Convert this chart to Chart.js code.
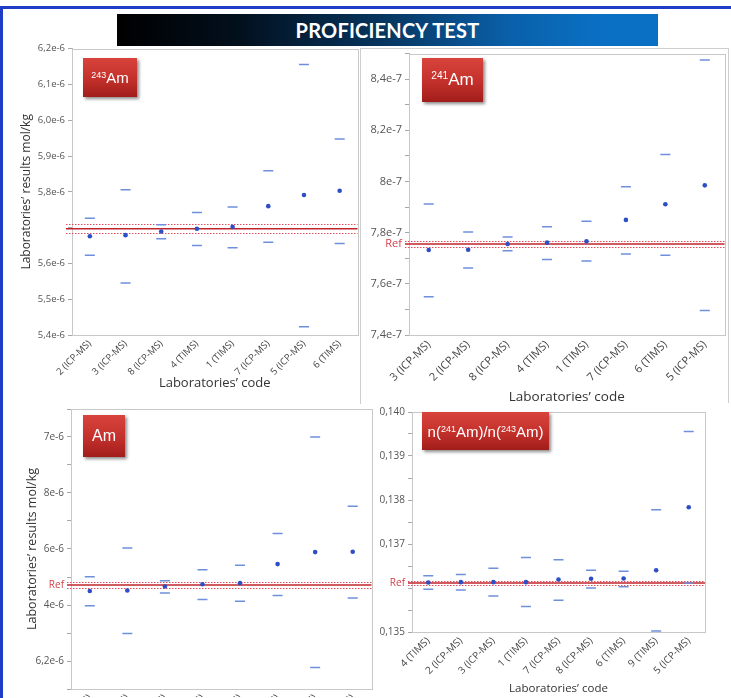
<!DOCTYPE html>
<html>
<head>
<meta charset="utf-8">
<script src="https://cdn.jsdelivr.net/npm/chart.js@4.4.1/dist/chart.umd.min.js"></script>
<style>
html,body{margin:0;padding:0;background:#fff;}
body{width:731px;height:698px;position:relative;overflow:hidden;font-family:"Open Sans",sans-serif;}
#frame{position:absolute;left:0;top:6px;width:731px;height:700px;border-top:3px solid #1e3cc8;border-left:3px solid #1e3cc8;box-sizing:border-box;}
canvas{position:absolute;}
#banner{position:absolute;left:117px;top:14px;width:541px;height:32px;z-index:6;
  background:linear-gradient(to right,#000 0%,#020f1c 22%,#06335c 48%,#0a5fa8 72%,#0a6fc2 88%,#0a70c3 100%);
  color:#fff;font:700 20px Lato,"Open Sans",sans-serif;text-align:center;line-height:33px;letter-spacing:0.2px;}
.tag{position:absolute;z-index:7;color:#fff;font-family:"Liberation Sans",Arial,sans-serif;
  background:linear-gradient(to bottom,#d8443c 0%,#c3302b 55%,#a11d1b 100%);
  box-shadow:2px 2px 3px rgba(0,0,0,0.45);display:flex;align-items:center;justify-content:center;white-space:nowrap;}
.tag sup{font-size:0.6em;vertical-align:0.55em;line-height:0;}
#frame2{position:absolute;left:360px;top:48px;width:369px;height:356px;border-left:1px solid #cfcfcf;border-top:1px solid #cfcfcf;border-right:1px solid #cfcfcf;box-sizing:border-box;}
</style>
</head>
<body>
<div id="frame"></div>
<div id="frame2"></div>
<div id="banner">PROFICIENCY TEST</div>
<canvas id="c1" width="360" height="360" style="left:4px;top:40px;z-index:2"></canvas>
<canvas id="c2" width="369" height="362" style="left:362px;top:44px;z-index:2"></canvas>
<canvas id="c3" width="374" height="298" style="left:4px;top:400px;z-index:2"></canvas>
<canvas id="c4" width="352" height="295" style="left:379px;top:403px;z-index:3;background:#fff"></canvas>
<div class="tag" style="left:83px;top:58px;width:54px;height:39px;font-size:15px;"><span><sup>243</sup>Am</span></div>
<div class="tag" style="left:422px;top:58px;width:61px;height:44px;font-size:17px;"><span><sup>241</sup>Am</span></div>
<div class="tag" style="left:83px;top:415px;width:42px;height:42px;font-size:16px;"><span>Am</span></div>
<div class="tag" style="left:422px;top:412px;width:127px;height:38px;font-size:15px;"><span>n(<sup>241</sup>Am)/n(<sup>243</sup>Am)</span></div>
<script>
// ---------- Panel 1 : 243Am (mol/kg) ----------
const p1Labs  = ["2 (ICP-MS)","3 (ICP-MS)","8 (ICP-MS)","4 (TIMS)","1 (TIMS)","7 (ICP-MS)","5 (ICP-MS)","6 (TIMS)"];
const p1Mean  = [5.676e-6,5.679e-6,5.689e-6,5.697e-6,5.702e-6,5.760e-6,5.791e-6,5.803e-6];
const p1Upper = [5.726e-6,5.806e-6,5.708e-6,5.742e-6,5.758e-6,5.859e-6,6.156e-6,5.948e-6];
const p1Lower = [5.623e-6,5.545e-6,5.669e-6,5.650e-6,5.644e-6,5.659e-6,5.423e-6,5.656e-6];
const p1Ref = 5.697e-6, p1RefU = 0.012e-6;
const p1TickValues = [5.4e-6,5.5e-6,5.6e-6,5.7e-6,5.8e-6,5.9e-6,6.0e-6,6.1e-6,6.2e-6];
const p1TickLabels = ["5,4e-6","5,5e-6","5,6e-6","","5,8e-6","5,9e-6","6,0e-6","6,1e-6","6,2e-6"];

// ---------- Panel 2 : 241Am (mol/kg) ----------
const p2Labs  = ["3 (ICP-MS)","2 (ICP-MS)","8 (ICP-MS)","4 (TIMS)","1 (TIMS)","7 (ICP-MS)","6 (TIMS)","5 (ICP-MS)"];
const p2Mean  = [7.732e-7,7.733e-7,7.756e-7,7.761e-7,7.766e-7,7.850e-7,7.911e-7,7.985e-7];
const p2Upper = [7.912e-7,7.803e-7,7.783e-7,7.823e-7,7.845e-7,7.980e-7,8.106e-7,8.475e-7];
const p2Lower = [7.550e-7,7.662e-7,7.729e-7,7.695e-7,7.689e-7,7.717e-7,7.712e-7,7.496e-7];
const p2Ref = 7.756e-7, p2RefU = 0.013e-7;
const p2TickValues = [7.4e-7,7.5e-7,7.6e-7,7.7e-7,7.8e-7,7.9e-7,8.0e-7,8.1e-7,8.2e-7,8.3e-7,8.4e-7,8.5e-7];
const p2TickLabels = ["7,4e-7","","7,6e-7","","7,8e-7","","8e-7","","8,2e-7","","8,4e-7",""];

// ---------- Panel 3 : Am (mol/kg) ----------
const p3Labs  = ["2 (ICP-MS)","3 (ICP-MS)","8 (ICP-MS)","4 (TIMS)","1 (TIMS)","7 (ICP-MS)","5 (ICP-MS)","6 (TIMS)"];
const p3Mean  = [6.450e-6,6.452e-6,6.466e-6,6.474e-6,6.478e-6,6.546e-6,6.589e-6,6.590e-6];
const p3Upper = [6.501e-6,6.604e-6,6.487e-6,6.526e-6,6.542e-6,6.655e-6,7.000e-6,6.753e-6];
const p3Lower = [6.397e-6,6.298e-6,6.443e-6,6.420e-6,6.413e-6,6.434e-6,6.177e-6,6.425e-6];
const p3Ref = 6.471e-6, p3RefU = 0.011e-6;
const p3TickValues = [6.1e-6,6.2e-6,6.3e-6,6.4e-6,6.5e-6,6.6e-6,6.7e-6,6.8e-6,6.9e-6,7.0e-6,7.1e-6];
const p3TickLabels = ["","6,2e-6","","4e-6","","6e-6","","8e-6","","7e-6",""];

// ---------- Panel 4 : n(241Am)/n(243Am) ----------
const p4Labs  = ["4 (TIMS)","2 (ICP-MS)","3 (ICP-MS)","1 (TIMS)","7 (ICP-MS)","8 (ICP-MS)","6 (TIMS)","9 (TIMS)","5 (ICP-MS)"];
const p4Mean  = [0.136126,0.136133,0.136133,0.136133,0.136193,0.136209,0.136216,0.136402,0.137835];
const p4Upper = [0.136276,0.136305,0.136447,0.136693,0.136641,0.136402,0.136379,0.137776,0.139559];
const p4Lower = [0.135970,0.135954,0.135819,0.135582,0.135723,0.136001,0.136029,0.135022,0.136111];
const p4Ref = 0.136111, p4RefU = 0.00005;
const p4TickValues = [0.135,0.1355,0.136,0.1365,0.137,0.1375,0.138,0.1385,0.139,0.1395,0.140];
const p4TickLabels = ["0,135","","","","0,137","","0,138","","0,139","","0,140"];

const DASH = '#6f8fdc', DOT = '#2d4ec4', RED = '#c0262c', REDDOT = '#e0505e';

const refPlugin = {
  id: 'refLines',
  beforeDatasetsDraw(chart, args, o) {
    const {ctx, chartArea: a, scales: {y}} = chart;
    const x0 = a.left - o.extL, x1 = a.right + o.extR;
    ctx.save();
    ctx.strokeStyle = '#c8c8c8'; ctx.lineWidth = 1;
    ctx.strokeRect(Math.round(a.left) + 0.5, Math.round(a.top) + 0.5, Math.round(a.right - a.left), Math.round(a.bottom - a.top));
    ctx.strokeStyle = REDDOT; ctx.lineWidth = 1; ctx.setLineDash([1.5, 1.5]);
    [o.value + o.delta, o.value - o.delta].forEach(v => {
      const yy = Math.round(y.getPixelForValue(v)) + 0.5;
      ctx.beginPath(); ctx.moveTo(x0, yy); ctx.lineTo(x1, yy); ctx.stroke();
    });
    ctx.setLineDash([]);
    ctx.strokeStyle = RED; ctx.lineWidth = 1.5;
    const yc = y.getPixelForValue(o.value);
    ctx.beginPath(); ctx.moveTo(x0, yc); ctx.lineTo(x1, yc); ctx.stroke();
    ctx.restore();
  }
};

function makeChart(id, c) {
  const near = (a, b) => Math.abs(a - b) < Math.abs(c.yMax - c.yMin) * 1e-6;
  const ds = (data, style, r, color) => ({
    data, showLine: false, pointStyle: style, pointRadius: r, pointHoverRadius: r,
    pointBorderColor: color, pointBackgroundColor: color,
    pointBorderWidth: style === 'line' ? 1.5 : 0
  });
  return new Chart(document.getElementById(id), {
    type: 'line',
    data: {
      labels: c.labels,
      datasets: [ds(c.upper, 'line', 5, DASH), ds(c.lower, 'line', 5, DASH), ds(c.mean, 'circle', 2.3, DOT)]
    },
    plugins: [refPlugin],
    options: {
      responsive: false, animation: false, devicePixelRatio: 1, events: [],
      layout: { padding: c.pad },
      plugins: {
        legend: { display: false }, tooltip: { enabled: false },
        refLines: { value: c.ref, delta: c.refU, extL: c.extL, extR: c.extR }
      },
      scales: {
        x: {
          type: 'category', offset: true,
          grid: { display: false, drawTicks: false },
          border: { display: false },
          ticks: { minRotation: 45, maxRotation: 45, autoSkip: false, padding: 3,
                   color: '#444', font: { family: '"Open Sans", sans-serif', size: c.xFont } },
          title: c.xTitle ? { display: true, text: 'Laboratories’ code', color: '#333',
                   font: { family: '"Open Sans", sans-serif', size: c.xTitleSize },
                   padding: { top: 0, bottom: c.xTitlePad } } : { display: false },
          afterFit: s => { s.height = c.xH; }
        },
        y: {
          type: 'linear', min: c.yMin, max: c.yMax,
          afterBuildTicks: s => {
            const t = c.tickValues.map(v => ({ value: v }));
            if (c.refLabel) t.push({ value: c.ref });
            s.ticks = t;
          },
          grid: { display: true, drawOnChartArea: false, drawTicks: true, tickLength: 4,
                  color: ctx => (ctx.tick && c.refLabel && near(ctx.tick.value, c.ref)) ? 'rgba(0,0,0,0)' : '#a8a8a8' },
          border: { display: true, color: '#b8b8b8' },
          ticks: {
            autoSkip: false, padding: 3,
            font: { family: '"Open Sans", sans-serif', size: c.yFont },
            color: ctx => (ctx.tick && c.refLabel && near(ctx.tick.value, c.ref)) ? '#d0404a' : '#555',
            callback: v => {
              if (c.refLabel && near(v, c.ref)) return 'Ref';
              const i = c.tickValues.findIndex(t => near(t, v));
              return i >= 0 ? c.tickLabels[i] : '';
            }
          },
          title: c.yTitle ? { display: true, text: 'Laboratories’ results mol/kg', color: '#333',
                   font: { family: '"Open Sans", sans-serif', size: c.yTitleSize },
                   padding: { top: c.yTitlePad, bottom: 0 } } : { display: false },
          afterFit: s => { s.width = c.yW; }
        }
      }
    }
  });
}

makeChart('c1', { labels: p1Labs, upper: p1Upper, lower: p1Lower, mean: p1Mean,
  ref: p1Ref, refU: p1RefU, refLabel: false, yMin: 5.4e-6, yMax: 6.2e-6,
  tickValues: p1TickValues, tickLabels: p1TickLabels,
  pad: { left: 0, top: 6, right: 3, bottom: 0 }, yW: 68, xH: 65,
  yFont: 9.5, xFont: 9.5, yTitle: true, yTitleSize: 12, yTitlePad: 15,
  xTitle: true, xTitleSize: 13, xTitlePad: 9, extL: 6, extR: 0 });

makeChart('c2', { labels: p2Labs, upper: p2Upper, lower: p2Lower, mean: p2Mean,
  ref: p2Ref, refU: p2RefU, refLabel: true, yMin: 7.4e-7, yMax: 8.5e-7,
  tickValues: p2TickValues, tickLabels: p2TickLabels,
  pad: { left: 0, top: 4, right: 5, bottom: 0 }, yW: 47, xH: 71,
  yFont: 11, xFont: 11, yTitle: false,
  xTitle: true, xTitleSize: 13.5, xTitlePad: 1, extL: 4, extR: 0 });

makeChart('c3', { labels: p3Labs, upper: p3Upper, lower: p3Lower, mean: p3Mean,
  ref: p3Ref, refU: p3RefU, refLabel: true, yMin: 6.1e-6, yMax: 7.1e-6,
  tickValues: p3TickValues, tickLabels: p3TickLabels,
  pad: { left: 0, top: 6, right: 4, bottom: 0 }, yW: 67, xH: 8,
  yFont: 10, xFont: 10, yTitle: true, yTitleSize: 12.5, yTitlePad: 21,
  xTitle: false, extL: 4, extR: 0 });

makeChart('c4', { labels: p4Labs, upper: p4Upper, lower: p4Lower, mean: p4Mean,
  ref: p4Ref, refU: p4RefU, refLabel: true, yMin: 0.135, yMax: 0.140,
  tickValues: p4TickValues, tickLabels: p4TickLabels,
  pad: { left: 0, top: 6, right: 26, bottom: 0 }, yW: 33, xH: 66,
  yFont: 10, xFont: 10, yTitle: false,
  xTitle: true, xTitleSize: 11.5, xTitlePad: 2, extL: 4, extR: 0 });
</script>
</body>
</html>
